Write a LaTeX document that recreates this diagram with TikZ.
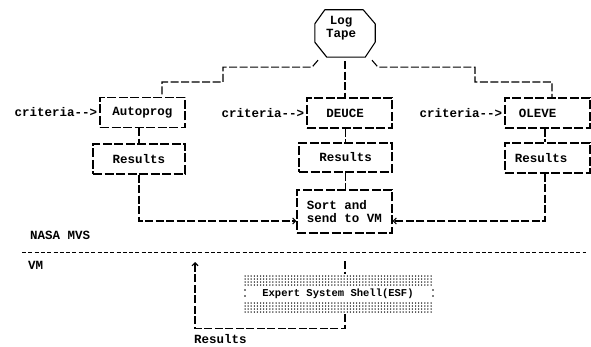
\documentclass[tikz,border=0pt]{standalone}
\usepackage{fontspec}
\setmonofont{Liberation Mono}
\usetikzlibrary{arrows.meta}
\begin{document}
\begin{tikzpicture}[x=1pt,y=-1pt,
  every node/.style={font=\ttfamily\bfseries\fontsize{12.5}{13}\selectfont, inner sep=0pt},
  box/.style={draw, line width=1.1pt, dash pattern=on 9pt off 2.5pt, minimum width=85pt, minimum height=30pt},
  conn/.style={line width=1.1pt, dash pattern=on 8pt off 2.5pt},
  tip/.style={-{Straight Barb[length=3pt,width=6pt]}},
  sep/.style={line width=1pt, dash pattern=on 4pt off 2.3pt},
  dot/.style={fill=black}]
\useasboundingbox (0,0) rectangle (591,347);

% Log tape
\node[minimum width=60pt, minimum height=47pt] (log) at (345,33.5) {};
\draw[line width=1.1pt, line join=round]
  ([xshift=10pt]log.north west) -- ([xshift=-12pt]log.north east)
  -- ([yshift=-14pt]log.north east) -- ([yshift=15pt]log.south east)
  -- ([xshift=-10pt]log.south east) -- ([xshift=12pt]log.south west)
  -- ([yshift=15pt]log.south west) -- ([yshift=-14pt]log.north west) -- cycle;
\node[align=center] (logtext) at (341,28.5) {Log\\Tape};

% boxes
\node[box] (auto) at (142.5,112.5) {Autoprog};
\node[box, minimum width=92pt] (r1) at (139,159) {Results};
\node[box] (deuce) at (349.5,113) {DEUCE\hspace*{9pt}};
\node[box, minimum width=93pt, minimum height=29pt] (r2) at (345.5,157.5) {Results};
\node[box, minimum width=95pt, minimum height=43pt, align=left] (sort) at (344.5,211.5) {Sort and\\send to VM};
\node[box] (oleve) at (547.5,113) {OLEVE\hspace*{20pt}};
\node[box] (r3) at (547.5,158) {Results\hspace*{13pt}};

% criteria labels
\node[anchor=east] (c1) at ([xshift=-2pt]auto.west) {criteria{-}{-}>};
\node[anchor=east] (c2) at ([xshift=-2pt]deuce.west) {criteria{-}{-}>};
\node[anchor=east] (c3) at ([xshift=-2pt]oleve.west) {criteria{-}{-}>};

% branches from the log tape
\draw[conn] ([shift={(-27pt,-3pt)}]log.south) -- ++(-6,7) -| (223,82) -| ([xshift=19.5pt]auto.north);
\draw[conn] ([shift={(27pt,-3pt)}]log.south) -- ++(6,7) -| (475,82) -| ([xshift=4.5pt]oleve.north);
\draw[conn] ([yshift=-4pt]log.south) -- (log.south |- deuce.north);

% vertical links
\draw[conn] (r1.north |- auto.south) -- (r1.north);
\draw[conn] (r2.north |- deuce.south) -- (r2.north);
\draw[conn] (r2.south) -- (r2.south |- sort.north);
\draw[conn] ([xshift=-2.5pt]oleve.south) -- ([xshift=-2.5pt]r3.north);

% into sort
\draw[conn,tip] (r1.south) |- ([yshift=-9.5pt]sort.west);
\draw[conn,tip] ([xshift=-2.5pt]r3.south) |- ([yshift=-9.5pt]sort.east);

% separator
\draw[sep] (22,252) -- (586,252);
\node[anchor=west] (nasa) at (30,235) {NASA MVS};
\node[anchor=west] (vm) at (28,265) {VM};

% expert system shell
\node[minimum width=190pt, minimum height=40pt, font=\ttfamily\bfseries\fontsize{10.5}{12}\selectfont] (ess) at (338,294) {Expert System Shell(ESF)};
\foreach \i in {0,...,60} {
  \foreach \j in {0,...,3} {
    \fill[dot] ({245+\i*3.1},{276+\j*3}) circle (0.75pt);
    \fill[dot] ({245+\i*3.1},{303+\j*3}) circle (0.75pt);
  }
}
\foreach \p in {(245,290),(245,296),(433,290),(433,296)} \fill[dot] \p circle (0.8pt);

\coordinate (vtop) at (345,261);
\draw[conn] (vtop) -- (vtop |- ess.north);

\coordinate (ret) at (195,262);
\draw[conn,tip] ([xshift=7pt]ess.south) -- ++(0,14) -| (ret);
\node[anchor=base west] (res) at (194,343) {Results};
\end{tikzpicture}
\end{document}
